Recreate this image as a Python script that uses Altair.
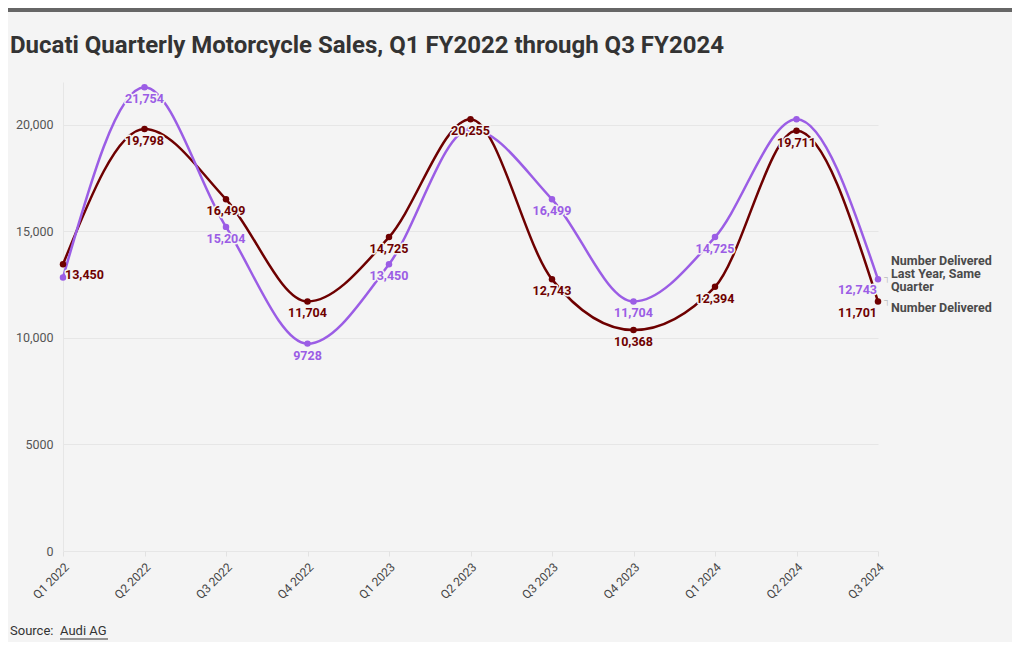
import altair as alt
import pandas as pd

quarters = ["Q1 2022", "Q2 2022", "Q3 2022", "Q4 2022", "Q1 2023", "Q2 2023",
            "Q3 2023", "Q4 2023", "Q1 2024", "Q2 2024", "Q3 2024"]
delivered = [13450, 19798, 16499, 11704, 14725, 20255, 12743, 10368, 12394, 19711, 11701]
last_year = [12830, 21754, 15204, 9728, 13450, 19798, 16499, 11704, 14725, 20255, 12743]

S_NOW = "Number Delivered"
S_LAST = "Number Delivered Last Year, Same Quarter"
series_names = [S_NOW, S_LAST]
series_colors = ["#6e0000", "#9b5de5"]
# quarters whose value label is hidden (overlapping) for the last-year series
hidden_last_labels = ["Q1 2022", "Q2 2023", "Q2 2024"]

title_text = "Ducati Quarterly Motorcycle Sales, Q1 FY2022 through Q3 FY2024"
source_prefix = "Source:"
source_name = "Audi AG"


def fmt(v):
    return f"{v:,}" if v >= 10000 else str(v)


rows = []
for q, a, b in zip(quarters, delivered, last_year):
    rows.append({"quarter": q, "series": S_NOW, "value": a, "label": fmt(a),
                 "show": True})
    rows.append({"quarter": q, "series": S_LAST, "value": b, "label": fmt(b),
                 "show": q not in hidden_last_labels})
df = pd.DataFrame(rows)

W, H = 815, 469
FONT = "Roboto"

x_enc = alt.X("quarter:O", sort=quarters,
              scale=alt.Scale(type="point", padding=0),
              axis=alt.Axis(title=None, labelAngle=-45, labelFont=FONT,
                            labelFontSize=12, labelColor="#444",
                            domain=False, ticks=True, tickColor="#e2e2e2",
                            tickSize=5, labelPadding=5, grid=False))
y_enc = alt.Y("value:Q", scale=alt.Scale(domain=[0, 22000], nice=False),
              axis=alt.Axis(title=None, values=[0, 5000, 10000, 15000, 20000],
                            labelExpr="datum.value >= 10000 ? format(datum.value, ',') : format(datum.value, 'd')",
                            labelFont=FONT, labelFontSize=12.5, labelColor="#555",
                            domain=True, domainColor="#e6e6e6", ticks=False,
                            labelPadding=10, gridColor="#e6e6e6"))
color_enc = alt.Color("series:N", scale=alt.Scale(domain=series_names, range=series_colors),
                      legend=None)

base = alt.Chart(df).encode(x=x_enc, y=y_enc, color=color_enc)

lines = base.mark_line(interpolate="monotone", strokeWidth=2.5)
points = base.mark_circle(size=42, opacity=1)

lab = base.transform_filter("datum.show")
first_q, last_q = quarters[0], quarters[-1]


def label_layers(filt, **kw):
    halo = lab.transform_filter(filt).mark_text(
        font=FONT, fontSize=12.5, fontWeight="bold", stroke="#f4f4f4",
        strokeWidth=3, strokeJoin="round", **kw).encode(text="label:N")
    txt = lab.transform_filter(filt).mark_text(
        font=FONT, fontSize=12.5, fontWeight="bold", **kw).encode(text="label:N")
    return [halo, txt]


mid_filter = f"datum.quarter != '{first_q}' && datum.quarter != '{last_q}'"
labels = (label_layers(mid_filter, align="center", baseline="middle", dy=12)
          + label_layers(f"datum.quarter == '{first_q}'", align="left", baseline="middle", dx=2, dy=11)
          + label_layers(f"datum.quarter == '{last_q}'", align="right", baseline="middle", dx=-1, dy=11))

# series labels at the right end of the lines
end_df = df[df["quarter"] == last_q]
end_base = alt.Chart(end_df).encode(x=x_enc, y=y_enc)
legend_last = end_base.transform_filter(f"datum.series == '{S_LAST}'").mark_text(
    font=FONT, fontSize=12.5, fontWeight="bold", color="#4a4a4a", align="left",
    baseline="middle", dx=13, dy=-18, lineHeight=13,
    lineBreak="\n").encode(text=alt.value(["Number Delivered", "Last Year, Same", "Quarter"]))
legend_now = end_base.transform_filter(f"datum.series == '{S_NOW}'").mark_text(
    font=FONT, fontSize=12.5, fontWeight="bold", color="#4a4a4a", align="left",
    baseline="middle", dx=13, dy=6).encode(text=alt.value(S_NOW))
connectors = end_base.mark_text(font=FONT, fontSize=9, color="#bbbbbb", align="left",
                                baseline="middle", dx=6, dy=-2).encode(text=alt.value("\u2510"))

one = pd.DataFrame({"k": [0]})
top_bar = alt.Chart(one).mark_rule(color="#666666", strokeWidth=4).encode(
    x=alt.value(-55), x2=alt.value(W + 134), y=alt.value(-72))
title = alt.Chart(one).mark_text(font=FONT, fontSize=24, fontWeight="bold", color="#333333",
                                 align="left", baseline="alphabetic").encode(
    x=alt.value(-53), y=alt.value(-29), text=alt.value(title_text))
source1 = alt.Chart(one).mark_text(font=FONT, fontSize=13, color="#333333", align="left",
                                   baseline="middle").encode(
    x=alt.value(-53), y=alt.value(549), text=alt.value(source_prefix))
source2 = alt.Chart(one).mark_text(font=FONT, fontSize=13, color="#333333", align="left",
                                   baseline="middle").encode(
    x=alt.value(-3), y=alt.value(549), text=alt.value(source_name))
underline = alt.Chart(one).mark_rule(color="#333333", strokeWidth=1).encode(
    x=alt.value(-3), x2=alt.value(45), y=alt.value(557))

chart = alt.layer(lines, points, *labels, legend_last, legend_now, connectors,
                  top_bar, title, source1, source2, underline).properties(
    width=W, height=H,
    autosize=alt.AutoSizeParams(type="none"),
    padding={"left": 55, "top": 74, "right": 134, "bottom": 91},
    background="#f4f4f4",
).configure_view(stroke=None)

chart.save("out.html", embed_options={"renderer": "svg", "actions": False})
